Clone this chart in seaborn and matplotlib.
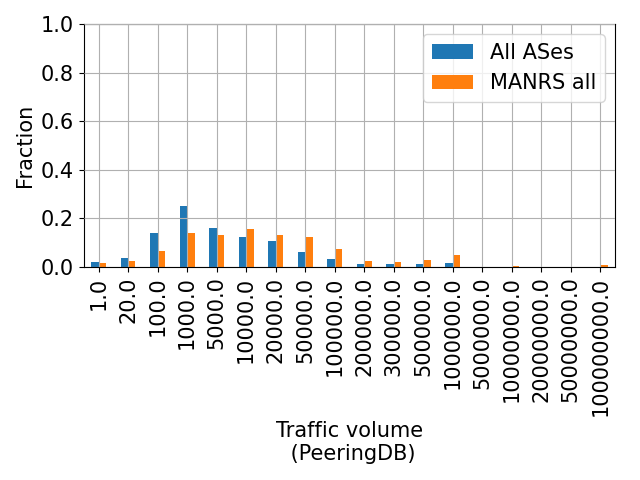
import matplotlib
matplotlib.use("Agg")
import matplotlib.pyplot as plt
import pandas as pd
import seaborn as sns

bins = ["1.0", "20.0", "100.0", "1000.0", "5000.0", "10000.0", "20000.0", "50000.0",
        "100000.0", "200000.0", "300000.0", "500000.0", "1000000.0", "5000000.0",
        "10000000.0", "20000000.0", "50000000.0", "100000000.0"]
all_ases = [0.020, 0.035, 0.140, 0.252, 0.160, 0.125, 0.105, 0.063, 0.033, 0.012,
            0.012, 0.012, 0.018, 0.0, 0.0, 0.0, 0.0, 0.0]
manrs_all = [0.017, 0.025, 0.067, 0.140, 0.130, 0.155, 0.130, 0.125, 0.072, 0.025,
             0.022, 0.027, 0.050, 0.0, 0.003, 0.0, 0.0, 0.007]

df = pd.DataFrame({"bin": bins * 2,
                   "frac": all_ases + manrs_all,
                   "group": ["All ASes"] * len(bins) + ["MANRS all"] * len(bins)})

plt.rcParams["font.size"] = 15
fig, ax = plt.subplots(figsize=(6.4, 4.8))
sns.barplot(data=df, x="bin", y="frac", hue="group", order=bins,
            palette=["#1f77b4", "#ff7f0e"], width=0.5, saturation=1, ax=ax)
ax.set_ylim(0, 1.0)
ax.set_xlim(-0.5, len(bins) - 0.5)
ax.grid(True)
ax.set_axisbelow(False)
ax.tick_params(axis="x", rotation=90)
ax.set_xlabel("Traffic volume\n (PeeringDB)")
ax.set_ylabel("Fraction")
ax.legend(title=None, loc="upper right")
fig.subplots_adjust(left=0.131, right=0.961, top=0.95, bottom=0.444)
plt.savefig("out.png", dpi=100)
